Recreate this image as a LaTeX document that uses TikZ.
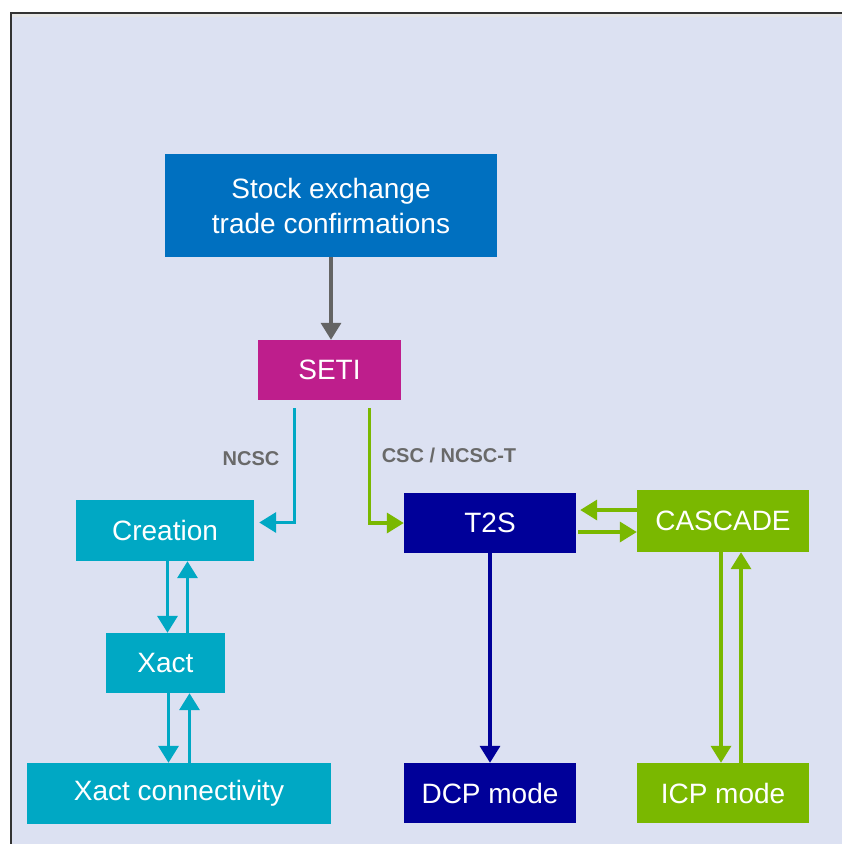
\documentclass[tikz,border=0pt]{standalone}
\usepackage{fontspec}
\setmainfont{Liberation Sans}
\usetikzlibrary{arrows.meta}
\usetikzlibrary{positioning}
\definecolor{mpanel}{RGB}{220, 225, 242}
\definecolor{mblue}{RGB}{0, 112, 192}
\definecolor{mmagenta}{RGB}{190, 30, 140}
\definecolor{mcyan}{RGB}{0, 168, 196}
\definecolor{mnavy}{RGB}{0, 0, 153}
\definecolor{mgreen}{RGB}{122, 184, 0}
\definecolor{mgrey}{RGB}{100, 100, 100}
\definecolor{mlabel}{RGB}{105, 105, 105}
\tikzset{box/.style = {inner sep=0pt, text=white, align=center,
                       font=\fontsize{28}{35}\selectfont},
         flow/.style = {line width=3.5pt,
                        -{Triangle[width=20pt, length=17pt]}},
         lbl/.style = {inner sep=0pt, text=mlabel,
                       font=\fontsize{20}{24}\selectfont\bfseries}}

\begin{document}
\begin{tikzpicture}[x=1pt, y=-1pt]
    \useasboundingbox (0, 0) rectangle (842, 844);
    \fill [white] (0, 0) rectangle (842, 844);
    \fill [mpanel] (10, 12) rectangle (842, 844);
    \draw [line width=3pt, black!10] (12, 15) -- (842, 15);
    \draw [line width=2pt, black!80] (11, 844) -- (11, 13) -- (842, 13);

    \node [box, fill=mblue, minimum width=332pt, minimum height=103pt]
        (stock) at (331, 205.5) {Stock exchange\\trade confirmations};
    \node [box, fill=mmagenta, minimum width=143pt, minimum height=60pt]
        (seti) at (329.5, 370) {SETI};
    \node [box, fill=mcyan, minimum width=178pt, minimum height=61pt]
        (creation) at (165, 530.5) {Creation};
    \node [box, fill=mcyan, minimum width=119pt, minimum height=60pt]
        (xact) at (165.5, 663) {Xact};
    \node [box, fill=mcyan, minimum width=304pt, minimum height=61pt]
        (xactcon) at (179, 793.5) {Xact connectivity};
    \node [box, fill=mnavy, minimum width=172pt, minimum height=60pt]
        (t2s) at (490, 523) {T2S};
    \node [box, fill=mgreen, minimum width=172pt, minimum height=62pt]
        (cascade) at (723, 521) {CASCADE};
    \node [box, fill=mnavy, minimum width=172pt, minimum height=60pt]
        (dcp) at (490, 793) {DCP mode};
    \node [box, fill=mgreen, minimum width=172pt, minimum height=60pt]
        (icp) at (723, 793) {ICP mode};

    \node [lbl] (ncsc) at (251, 459) {NCSC};
    \node [lbl] (csc) at (449, 455) {CSC / NCSC-T};

    \draw [flow, mgrey] (stock.south) -- (stock.south |- seti.north);
    \draw [flow, mcyan, shorten >=5pt]
        ([xshift=-35pt, yshift=-8pt]seti.south) |- ([yshift=8pt]creation.east);
    \draw [flow, mgreen]
        ([xshift=40pt, yshift=-8pt]seti.south) |- (t2s.west);

    \draw [flow, mgreen, shorten >=4pt]
        ([yshift=11pt]cascade.west) -- ([yshift=11pt]cascade.west -| t2s.east);
    \draw [flow, mgreen, shorten <=2pt]
        ([yshift=-11pt]cascade.west -| t2s.east) -- ([yshift=-11pt]cascade.west);

    \draw [flow, mcyan] ([xshift=2pt]creation.south -| xact.north)
        -- ([xshift=2pt]xact.north);
    \draw [flow, mcyan] ([xshift=22pt]xact.north)
        -- ([xshift=22pt]xact.north |- creation.south);
    \draw [flow, mcyan] ([xshift=3pt]xact.south)
        -- ([xshift=3pt]xact.south |- xactcon.north);
    \draw [flow, mcyan] ([xshift=24pt]xact.south |- xactcon.north)
        -- ([xshift=24pt]xact.south);

    \draw [flow, mnavy] (t2s.south) -- (dcp.north);

    \draw [flow, mgreen] ([xshift=-2pt]cascade.south)
        -- ([xshift=-2pt]icp.north);
    \draw [flow, mgreen] ([xshift=18pt]icp.north)
        -- ([xshift=18pt]cascade.south);
  \end{tikzpicture}
\end{document}
